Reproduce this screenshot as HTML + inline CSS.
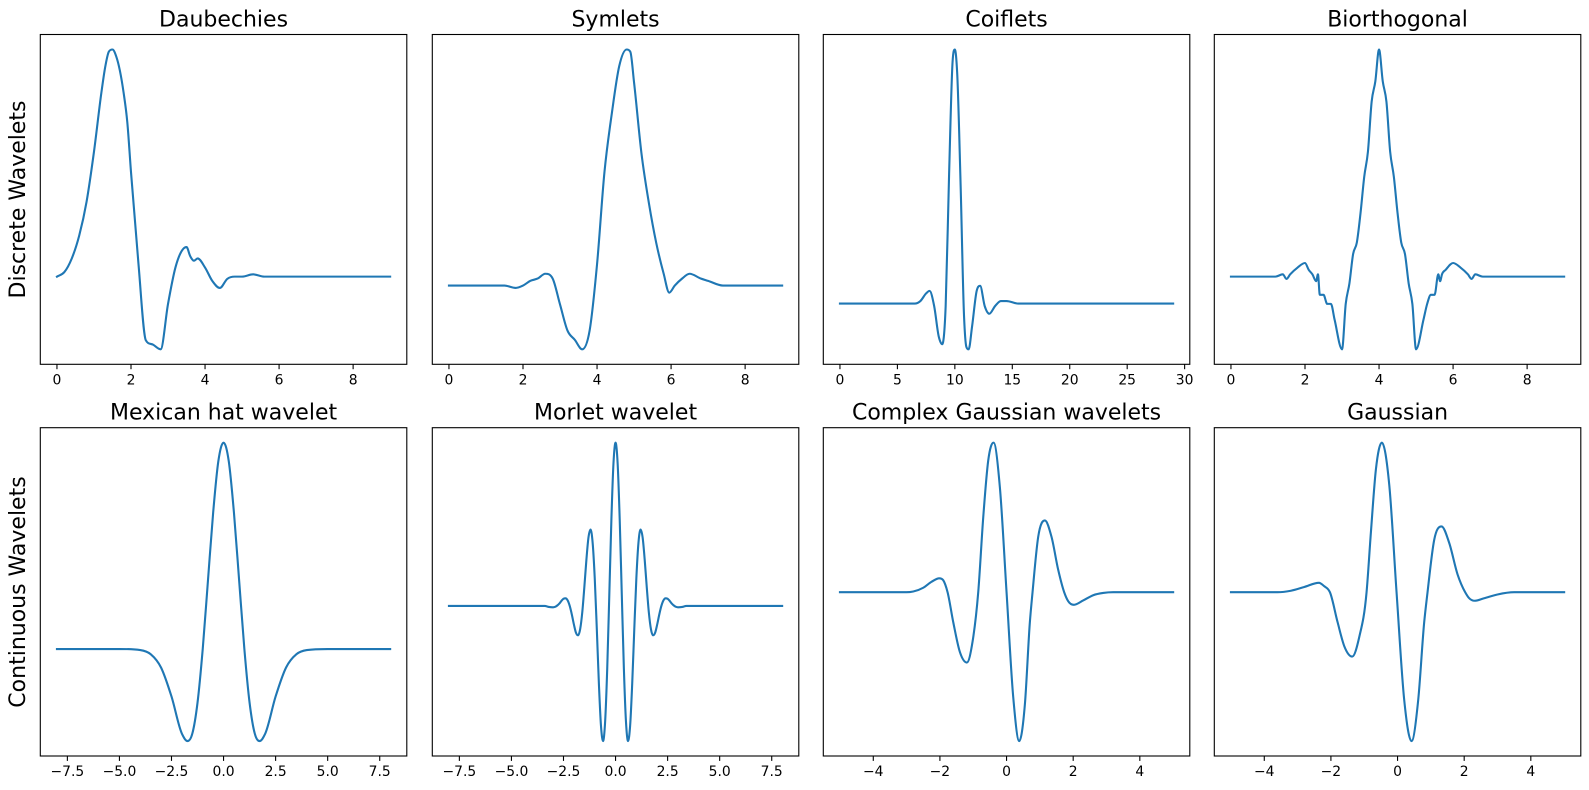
<!DOCTYPE html>
<html><head><meta charset="utf-8">
<style>
html,body{margin:0;padding:0;background:#fff;}
svg{display:block;font-family:"DejaVu Sans","Liberation Sans",sans-serif;}
</style></head>
<body>
<svg id="chart" width="1589" height="790" viewBox="0 0 1589 790" xmlns="http://www.w3.org/2000/svg">
<text x="0" y="0" font-size="22" text-anchor="middle" transform="translate(25,199.5) rotate(-90)">Discrete Wavelets</text>
<text x="0" y="0" font-size="22" text-anchor="middle" transform="translate(25,592) rotate(-90)">Continuous Wavelets</text>
</svg>
<script>
// ---- data ----
const titles = ["Daubechies","Symlets","Coiflets","Biorthogonal","Mexican hat wavelet","Morlet wavelet","Complex Gaussian wavelets","Gaussian"];

const dbX = [0,0.2,0.4,0.6,0.8,1.0,1.2,1.3,1.4,1.5,1.6,1.8,1.9,2.0,2.2,2.4,2.6,2.8,3.0,3.2,3.4,3.5,3.6,3.7,3.8,4.0,4.2,4.4,4.6,4.8,5.0,5.3,5.6,6.0,9.0];
const dbY = [0,0.02,0.08,0.18,0.33,0.55,0.81,0.92,0.99,1.0,0.97,0.81,0.68,0.46,0.06,-0.28,-0.30,-0.32,-0.12,0.04,0.12,0.13,0.09,0.07,0.08,0.04,-0.02,-0.05,-0.01,0,0,0.01,0,0,0];

const symX = [0,1.5,1.8,2.0,2.2,2.4,2.6,2.8,3.0,3.2,3.4,3.6,3.8,4.0,4.2,4.4,4.6,4.8,4.9,5.0,5.2,5.4,5.6,5.8,5.95,6.1,6.3,6.5,6.8,7.0,7.4,9.0];
const symY = [0,0,-0.01,0,0.02,0.03,0.05,0.03,-0.08,-0.19,-0.23,-0.27,-0.19,0.09,0.48,0.73,0.93,1.0,0.99,0.86,0.56,0.35,0.18,0.05,-0.03,0,0.03,0.05,0.03,0.02,0,0];

const coifX = [0,6.5,7.0,7.5,7.8,8.2,8.6,8.9,9.2,9.5,9.8,10.0,10.2,10.5,10.8,11.0,11.2,11.5,11.9,12.2,12.6,13.0,13.5,14.0,14.5,15.5,29.0];
const coifY = [0,0,0.01,0.04,0.05,-0.01,-0.13,-0.16,-0.01,0.51,0.95,1.0,0.91,0.47,-0.05,-0.17,-0.18,-0.09,0.05,0.07,-0.01,-0.04,-0.01,0.01,0.01,0,0];

const biorX = [0,1.0,1.2,1.4,1.5,1.6,1.8,2.0,2.1,2.2,2.3,2.35,2.4,2.5,2.6,2.7,2.8,3.0,3.1,3.2,3.3,3.4,3.5,3.6,3.7,3.8,3.9,4.0,4.1,4.2,4.3,4.4,4.5,4.6,4.7,4.8,4.9,5.0,5.2,5.3,5.4,5.5,5.6,5.65,5.7,5.8,6.0,6.2,6.4,6.5,6.6,6.8,7.0,9.0];
const biorY = [0,0,0,0.01,-0.01,0.01,0.04,0.06,0.03,0.01,-0.02,0.01,-0.08,-0.08,-0.12,-0.12,-0.19,-0.32,-0.12,-0.03,0.10,0.15,0.28,0.44,0.55,0.77,0.86,1.0,0.86,0.77,0.55,0.44,0.28,0.15,0.10,-0.03,-0.12,-0.32,-0.19,-0.12,-0.08,-0.08,0.01,-0.02,0.01,0.03,0.06,0.04,0.01,-0.01,0.01,0,0,0];

const mexX = [-8,-5,-4,-3.5,-3,-2.5,-2,-1.73,-1.5,-1.25,-1,-0.75,-0.5,-0.25,0,0.25,0.5,0.75,1,1.25,1.5,1.73,2,2.5,3,3.5,4,5,8];
const mexY = [0,0,-0.005,-0.025,-0.09,-0.23,-0.41,-0.446,-0.41,-0.26,0,0.33,0.66,0.91,1,0.91,0.66,0.33,0,-0.26,-0.41,-0.446,-0.41,-0.23,-0.09,-0.025,-0.005,0,0];

const morX = [-8,-3.4,-3.2,-3.0,-2.9,-2.8,-2.7,-2.6,-2.5,-2.4,-2.3,-2.2,-2.1,-2.0,-1.9,-1.8,-1.7,-1.6,-1.5,-1.4,-1.3,-1.2,-1.1,-1.0,-0.9,-0.8,-0.7,-0.6,-0.5,-0.4,-0.3,-0.2,-0.1,0,0.1,0.2,0.3,0.4,0.5,0.6,0.7,0.8,0.9,1.0,1.1,1.2,1.3,1.4,1.5,1.6,1.7,1.8,1.9,2.0,2.1,2.2,2.3,2.4,2.5,2.6,2.7,2.8,2.9,3.0,3.2,3.4,8];
const morY = [0,0,-0.006,-0.008,-0.005,0.003,0.015,0.031,0.044,0.047,0.034,0,-0.052,-0.113,-0.164,-0.180,-0.142,-0.041,0.113,0.283,0.420,0.468,0.387,0.172,-0.141,-0.475,-0.733,-0.827,-0.707,-0.384,0.068,0.529,0.873,1.0,0.873,0.529,0.068,-0.384,-0.707,-0.827,-0.733,-0.475,-0.141,0.172,0.387,0.468,0.420,0.283,0.113,-0.041,-0.142,-0.180,-0.164,-0.113,-0.052,0,0.034,0.047,0.044,0.031,0.015,0.003,-0.005,-0.008,-0.006,0,0];

const cgauX = [-5,-3,-2.8,-2.5,-2.25,-2.02,-1.9,-1.77,-1.6,-1.4,-1.19,-1.02,-0.85,-0.7,-0.55,-0.39,-0.2,0,0.2,0.38,0.55,0.7,0.78,0.95,1.15,1.35,1.55,1.73,1.85,2.02,2.3,2.6,2.9,3.2,5];
const cgauY = [0,0,0.005,0.03,0.07,0.093,0.08,0,-0.2,-0.40,-0.47,-0.33,0,0.5,0.88,1.0,0.7,0,-0.7,-0.995,-0.75,-0.2,0,0.37,0.48,0.37,0.15,0,-0.06,-0.084,-0.055,-0.02,-0.005,0,0];

const gausX = [-5,-3.6,-3.2,-2.8,-2.36,-2.2,-2.03,-1.8,-1.6,-1.36,-1.15,-0.93,-0.8,-0.65,-0.47,-0.25,-0.03,0.2,0.42,0.62,0.8,0.9,1.1,1.32,1.55,1.8,2.03,2.15,2.31,2.6,3.0,3.5,5];
const gausY = [0,0,0.01,0.035,0.063,0.04,0,-0.2,-0.36,-0.43,-0.3,0,0.4,0.82,1.0,0.72,0,-0.72,-0.995,-0.72,-0.2,0,0.35,0.44,0.33,0.12,0,-0.04,-0.057,-0.04,-0.015,0,0];

const ticksA = [0,2,4,6,8];
const ticksCoif = [0,5,10,15,20,25,30];
const ticksMex = [-7.5,-5,-2.5,0,2.5,5,7.5];
const ticksG = [-4,-2,0,2,4];
const labelsA = ["0","2","4","6","8"];
const labelsCoif = ["0","5","10","15","20","25","30"];
const labelsMex = ["\u22127.5","\u22125.0","\u22122.5","0.0","2.5","5.0","7.5"];
const labelsG = ["\u22124","\u22122","0","2","4"];

const seriesX = [dbX,symX,coifX,biorX,mexX,morX,cgauX,gausX];
const seriesY = [dbY,symY,coifY,biorY,mexY,morY,cgauY,gausY];
const tickSets = [ticksA,ticksA,ticksCoif,ticksA,ticksMex,ticksMex,ticksG,ticksG];
const labelSets = [labelsA,labelsA,labelsCoif,labelsA,labelsMex,labelsMex,labelsG,labelsG];
const slugs = ["daubechies","symlets","coiflets","biorthogonal","mexican-hat","morlet","complex-gaussian","gaussian"];

// ---- layout ----
const NS = "http://www.w3.org/2000/svg";
const svg = document.getElementById("chart");
const lefts = [40.3,432.3,823.3,1214.3];
const W = 366.5;
const tops = [34.5,427.7];
const Hs = [329.8,328.3];

function mk(tag, attrs, parent){
  const e = document.createElementNS(NS, tag);
  for (const k in attrs) e.setAttribute(k, attrs[k]);
  parent.appendChild(e);
  return e;
}
function scaleLin(d0,d1,r0,r1){ return v => r0 + (v-d0)/(d1-d0)*(r1-r0); }
function monoPath(px, py){
  const n = px.length;
  const t = new Array(n).fill(0);
  const sec = [];
  for (let i=0;i<n-1;i++) sec.push((py[i+1]-py[i])/(px[i+1]-px[i]));
  for (let i=1;i<n-1;i++){
    const h0 = px[i]-px[i-1], h1 = px[i+1]-px[i];
    const s0 = sec[i-1], s1 = sec[i];
    const p = (s0*h1 + s1*h0)/(h0+h1);
    if (Math.sign(s0) !== Math.sign(s1) || s0 === 0 || s1 === 0) { t[i] = 0; continue; }
    t[i] = Math.sign(p) * Math.min(Math.abs(p), 3*Math.min(Math.abs(s0), Math.abs(s1)));
  }
  t[0] = sec[0]; t[n-1] = sec[n-2];
  let d = "M" + px[0].toFixed(2) + "," + py[0].toFixed(2);
  for (let i=0;i<n-1;i++){
    const dx = (px[i+1]-px[i])/3;
    d += " C" + (px[i]+dx).toFixed(2) + "," + (py[i]+dx*t[i]).toFixed(2) + " " +
         (px[i+1]-dx).toFixed(2) + "," + (py[i+1]-dx*t[i+1]).toFixed(2) + " " +
         px[i+1].toFixed(2) + "," + py[i+1].toFixed(2);
  }
  return d;
}

for (let k=0;k<8;k++){
  const row = Math.floor(k/4), col = k%4;
  const L = lefts[col], T = tops[row], H = Hs[row];
  const xs = seriesX[k], ys = seriesY[k];
  const xmin = Math.min(...xs), xmax = Math.max(...xs);
  const ymin = Math.min(...ys), ymax = Math.max(...ys);
  const xr = xmax-xmin, yr = ymax-ymin;
  const sx = scaleLin(xmin-0.05*xr, xmax+0.05*xr, L, L+W);
  const sy = scaleLin(ymin-0.05*yr, ymax+0.05*yr, T+H, T);

  const g = mk("g", {}, svg);
  
  

  const title = mk("text", {x:L+W/2, y:T-8, "font-size":22, "text-anchor":"middle", fill:"#000"}, g);
  title.textContent = titles[k];
  
  

  const px = xs.map(sx), py = ys.map(sy);
  const line = mk("path", {d:monoPath(px,py), fill:"none", stroke:"#1f77b4", "stroke-width":2.1, "stroke-linejoin":"round", "stroke-linecap":"square"}, g);
  
  

  const frame = mk("rect", {x:L, y:T, width:W, height:H, fill:"none", stroke:"#000", "stroke-width":1.1}, g);
  
  

  const ticks = tickSets[k], labs = labelSets[k];
  for (let i=0;i<ticks.length;i++){
    const x = sx(ticks[i]);
    const tk = mk("line", {x1:x, x2:x, y1:T+H, y2:T+H+4.9, stroke:"#000", "stroke-width":1.1}, g);
    
    
    const tl = mk("text", {x:x, y:T+H+20, "font-size":13.9, "text-anchor":"middle", fill:"#000"}, g);
    tl.textContent = labs[i];
    
    
  }
}
</script>
</body></html>
